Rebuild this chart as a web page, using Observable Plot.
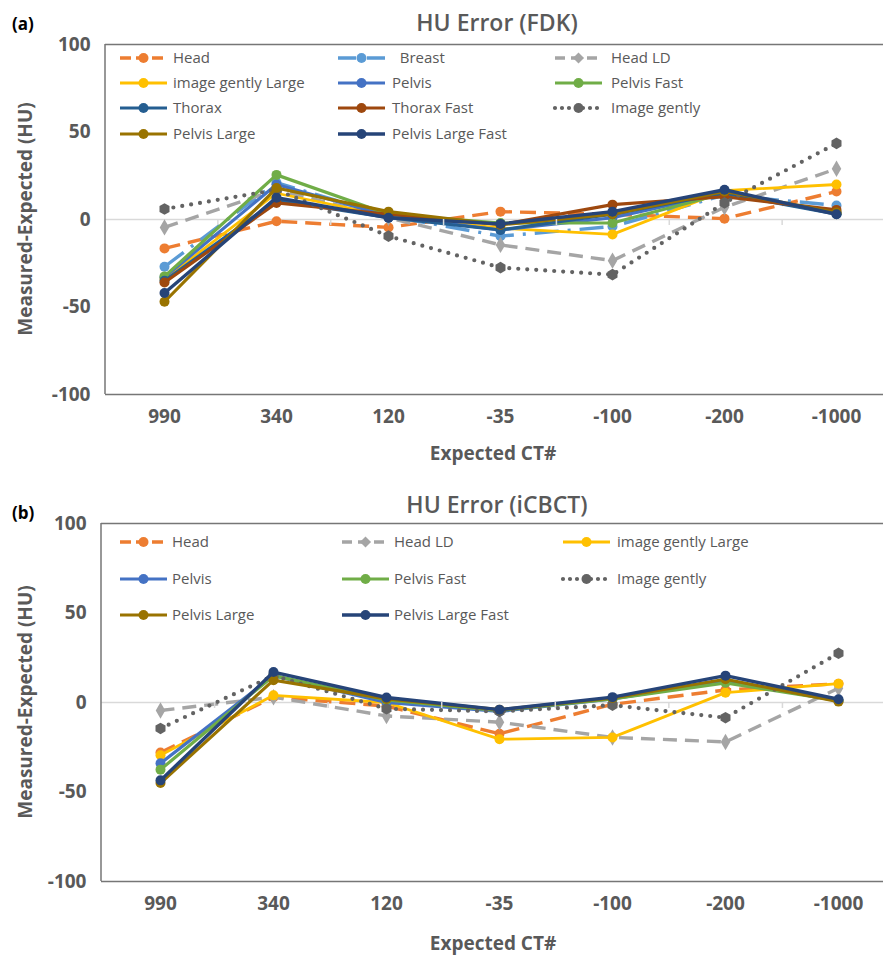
<!DOCTYPE html>
<html><head><meta charset="utf-8">
<script src="https://cdn.jsdelivr.net/npm/d3@7"></script>
<script src="https://cdn.jsdelivr.net/npm/@observablehq/plot@0.6"></script>
<style>body{margin:0;background:#fff;} #wrap svg{display:block;}</style>
</head><body><div id="wrap"></div>
<script>
// ---------- DATA ----------
const categories = ["990", "340", "120", "-35", "-100", "-200", "-1000"];
const yTicks = [-100, -50, 0, 50, 100];

// Panel (a): HU Error (FDK)
const fdkSeries = ["Head", "Breast", "Head LD", "image gently Large", "Pelvis", "Pelvis Fast",
  "Thorax", "Thorax Fast", "Image gently", "Pelvis Large", "Pelvis Large Fast"];
const fdkHead            = [-16.5, -1, -4.5, 4.5, 3, 0.5, 16];
const fdkBreast          = [-27, 21, 2, -9.5, -4, 14, 8];
const fdkHeadLD          = [-4.5, 17, 1, -14.5, -23.5, 7, 29];
const fdkGentlyLarge     = [-34, 15, 2, -5, -8.5, 16.5, 20];
const fdkPelvis          = [-33, 20, 2, -6, 1, 15, 4];
const fdkPelvisFast      = [-32.5, 25.5, 3, -2, -2, 15, 3.5];
const fdkThorax          = [-35, 11, 1, -6, 3, 15, 3];
const fdkThoraxFast      = [-36, 9.5, 3, -3, 8.5, 13, 5.5];
const fdkGently          = [6, 17, -9.5, -27.5, -31.5, 9.5, 43.5];
const fdkPelvisLarge     = [-47, 18, 4.5, -3, 3, 16, 4];
const fdkPelvisLargeFast = [-42, 12.5, 1, -2.5, 4.5, 17, 3];

// Panel (b): HU Error (iCBCT)
const icbctSeries = ["Head", "Head LD", "image gently Large", "Pelvis", "Pelvis Fast",
  "Image gently", "Pelvis Large", "Pelvis Large Fast"];
const icbctHead            = [-28, 3, -2, -17.5, -1, 7, 10.5];
const icbctHeadLD          = [-4.5, 3, -7.5, -11, -19.5, -22, 8];
const icbctGentlyLarge     = [-29.5, 4, 0, -20.5, -19.5, 5.5, 10.5];
const icbctPelvis          = [-34, 15, 0, -5, 2, 12, 1];
const icbctPelvisFast      = [-37.5, 15, 1.5, -4.5, 2, 11, 1];
const icbctGently          = [-14.5, 15, -3.5, -5, -1.5, -8.5, 27.5];
const icbctPelvisLarge     = [-45, 12.5, 2, -4, 2.5, 13, 0.5];
const icbctPelvisLargeFast = [-43.5, 17, 2.8, -4, 3, 15, 1.8];

// ---------- STYLES ----------
const styles = {
  "Head":               {color: "#ED7D31", dash: "16,8", ldash: "11,5", cap: "butt", width: 3.4, symbol: "circle"},
  "Breast":             {color: "#5B9BD5", dash: "24,9,3,9", ldash: "18,4,3,4", cap: "butt", width: 3.4, symbol: "circle"},
  "Head LD":            {color: "#A5A5A5", dash: "14,8", ldash: "10,6", cap: "butt", width: 3.4, symbol: "diamond"},
  "image gently Large": {color: "#FFC000", dash: null, cap: "butt", width: 2.8, symbol: "circle"},
  "Pelvis":             {color: "#4472C4", dash: null, cap: "butt", width: 3.2, symbol: "circle"},
  "Pelvis Fast":        {color: "#70AD47", dash: null, cap: "butt", width: 3.2, symbol: "circle"},
  "Thorax":             {color: "#255E91", dash: null, cap: "butt", width: 3.2, symbol: "circle"},
  "Thorax Fast":        {color: "#9E480E", dash: null, cap: "butt", width: 3.2, symbol: "circle"},
  "Image gently":       {color: "#636363", dash: "0,9", ldash: "0,7", cap: "round", width: 4.2, symbol: "hexagon"},
  "Pelvis Large":       {color: "#997300", dash: null, cap: "butt", width: 3.2, symbol: "circle"},
  "Pelvis Large Fast":  {color: "#264478", dash: null, cap: "butt", width: 3.4, symbol: "circle"}
};
const FONT = "'Open Sans', 'Noto Sans', sans-serif";
const GRAY = "#595959";

function symbolPath(sym, r) {
  const map = {circle: d3.symbolCircle, diamond: d3.symbolDiamond2, hexagon: Plot.symbol ? Plot.symbol("hexagon") : d3.symbolCircle};
  const s = map[sym] || d3.symbolCircle;
  return d3.symbol(s, Math.PI * r * r)();
}

function panel(cfg) {
  const {tag, title, names, values, height, marginTop, marginBottom, marginLeft, xRange, legend} = cfg;
  const rows = [];
  names.forEach((n, i) => values[i].forEach((v, j) => rows.push({series: n, cat: categories[j], val: v})));
  const marks = [
    Plot.ruleY([0], {stroke: "#D9D9D9", strokeWidth: 1.5}),
    Plot.ruleY([-100, 100], {stroke: "#767676", strokeWidth: 1.5}),
    Plot.axisY({ticks: yTicks, tickSize: 0, tickPadding: 15, label: null, tickFormat: d => String(d)}),
    Plot.axisX({tickSize: 0, tickPadding: 15, label: null})
  ];
  names.forEach(n => {
    const s = styles[n];
    const d = rows.filter(r => r.series === n);
    const lo = {x: "cat", y: "val", stroke: s.color, strokeWidth: s.width, strokeLinecap: s.cap, strokeLinejoin: "round"};
    if (s.dash) lo.strokeDasharray = s.dash;
    marks.push(Plot.line(d, lo));
    marks.push(Plot.dot(d, {x: "cat", y: "val", r: 5, fill: s.color, stroke: "none", symbol: s.symbol}));
  });
  const chart = Plot.plot({
    width: 883, height, marginTop, marginBottom, marginLeft, marginRight: 0,
    x: {type: "point", domain: categories, range: xRange, padding: 0.5},
    y: {domain: [-100, 100]},
    style: {fontFamily: FONT, fontSize: "19px", fontWeight: "bold", color: GRAY, background: "white", overflow: "visible"},
    marks
  });
  const svg = d3.select(chart);
  const yTop = marginTop, yBot = height - marginBottom, y0 = (yTop + yBot) / 2;
  svg.append("line").attr("x1", marginLeft).attr("x2", marginLeft).attr("y1", yTop).attr("y2", yBot)
    .attr("stroke", "#767676").attr("stroke-width", 1.5);
  const step = (xRange[1] - xRange[0]) / categories.length;
  for (let i = 1; i < categories.length; i++) {
    const x = xRange[0] + step * i;
    svg.append("line").attr("x1", x).attr("x2", x).attr("y1", y0).attr("y2", y0 + 6)
      .attr("stroke", "#D9D9D9").attr("stroke-width", 1.5);
  }
  svg.append("text").attr("x", 497).attr("y", cfg.titleY).attr("text-anchor", "middle").attr("dy", "0.35em")
    .attr("font-family", FONT).attr("font-size", 23).attr("font-weight", 600).attr("fill", GRAY).text(title);
  svg.append("text").attr("x", 12).attr("y", cfg.tagY).attr("text-anchor", "start").attr("dy", "0.35em")
    .attr("font-family", FONT).attr("font-size", 17).attr("font-weight", "bold").attr("fill", "#000").text(tag);
  svg.append("text").attr("transform", `translate(25,${y0}) rotate(-90)`).attr("text-anchor", "middle").attr("dy", "0.35em")
    .attr("font-family", FONT).attr("font-size", 19).attr("font-weight", "bold").attr("fill", GRAY).text("Measured-Expected (HU)");
  svg.append("text").attr("x", 493).attr("y", cfg.xLabelY).attr("text-anchor", "middle").attr("dy", "0.35em")
    .attr("font-family", FONT).attr("font-size", 19).attr("font-weight", "bold").attr("fill", GRAY).text("Expected CT#");
  const lg = svg.append("g");
  names.forEach((n, i) => {
    const s = styles[n];
    const col = i % 3, row = Math.floor(i / 3);
    const sx = legend.sampleX[col], tx = legend.textX[col], y = legend.rowY[row];
    const g = lg.append("g");
    const ln = g.append("line").attr("x1", sx).attr("x2", sx + 47).attr("y1", y).attr("y2", y)
      .attr("stroke", s.color).attr("stroke-width", s.width).attr("stroke-linecap", s.cap);
    if (s.ldash) ln.attr("stroke-dasharray", s.ldash);
    g.append("path").attr("transform", `translate(${sx + 23.5},${y})`).attr("d", symbolPath(s.symbol, 5)).attr("fill", s.color);
    g.append("text").attr("x", tx).attr("y", y).attr("dy", "0.35em").attr("text-anchor", "start")
      .attr("font-family", FONT).attr("font-size", 15)
      .attr("font-weight", "normal").attr("fill", GRAY).text(n === "Breast" ? "\u00A0\u00A0Breast" : n);
  });
  return chart;
}

const wrap = document.getElementById("wrap");
wrap.appendChild(panel({
  tag: "(a)", title: "HU Error (FDK)", names: fdkSeries,
  values: [fdkHead, fdkBreast, fdkHeadLD, fdkGentlyLarge, fdkPelvis, fdkPelvisFast, fdkThorax, fdkThoraxFast, fdkGently, fdkPelvisLarge, fdkPelvisLargeFast],
  height: 480, marginTop: 44, marginBottom: 86, marginLeft: 105, xRange: [105, 895],
  titleY: 23, tagY: 24, xLabelY: 453,
  legend: {sampleX: [120, 338, 555], textX: [173, 392, 611], rowY: [58, 83, 108, 134]}
}));
wrap.appendChild(panel({
  tag: "(b)", title: "HU Error (iCBCT)", names: icbctSeries,
  values: [icbctHead, icbctHeadLD, icbctGentlyLarge, icbctPelvis, icbctPelvisFast, icbctGently, icbctPelvisLarge, icbctPelvisLargeFast],
  height: 477, marginTop: 43, marginBottom: 76, marginLeft: 101, xRange: [101, 896],
  titleY: 25, tagY: 33, xLabelY: 463,
  legend: {sampleX: [120, 342, 563], textX: [172, 394, 617], rowY: [62, 99, 135]}
}));
</script>
</body></html>
